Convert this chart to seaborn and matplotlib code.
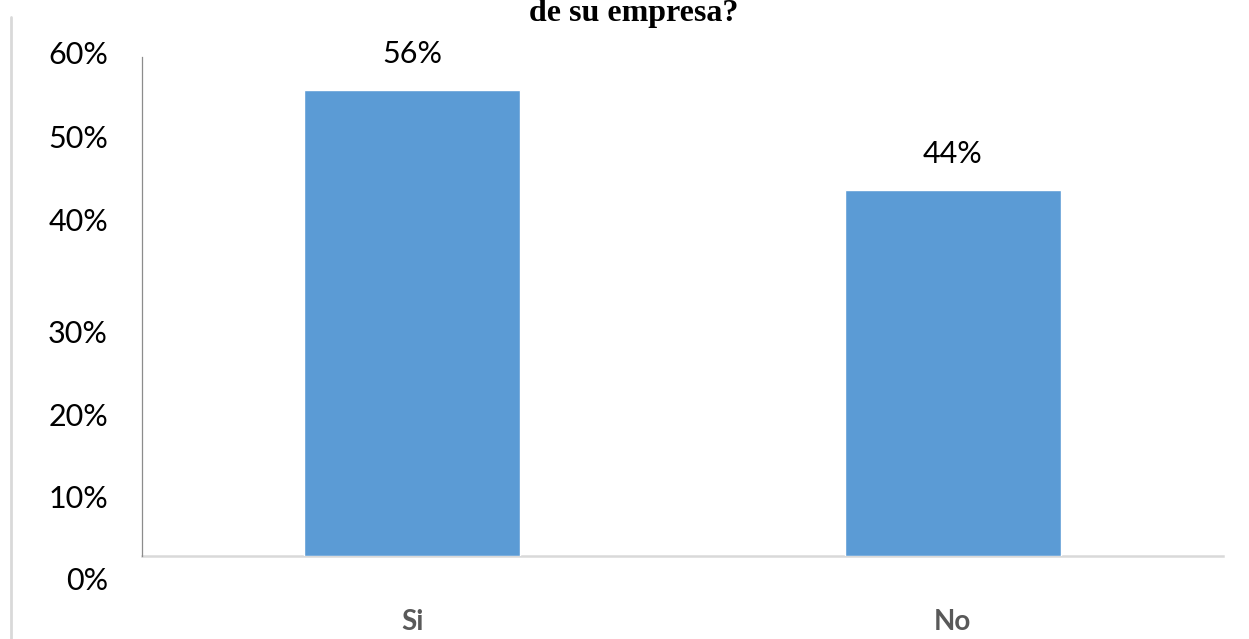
import matplotlib
matplotlib.use("Agg")
import matplotlib.pyplot as plt
from matplotlib.lines import Line2D
import seaborn as sns
import pandas as pd

# Survey answers and their shares (%)
categories = ["Si", "No"]
shares = [56, 44]
tick_labels = ["0%", "10%", "20%", "30%", "40%", "50%", "60%"]
title_text = "de su empresa?"

# Vertical placement (data units) of the percentage labels on the value axis
tick_label_y = [-2.95, 6.8, 16.7, 26.7, 40.2, 50.2, 60.2]

sns.set_theme(style="white")
plt.rcParams["font.family"] = ["Lato", "DejaVu Sans"]

df = pd.DataFrame({"respuesta": categories, "porcentaje": shares})

W, H = 1249, 639
fig = plt.figure(figsize=(W / 100, H / 100), dpi=100)
ax = fig.add_axes([142 / W, (H - 556) / H, (1223 - 142) / W, (556 - 57) / H])

sns.barplot(data=df, x="respuesta", y="porcentaje", color="#5B9BD5",
            saturation=1, width=0.4, ax=ax)
ax.set_ylim(0, 60)
ax.set_xlim(-0.5, 1.5)
ax.set_xlabel("")
ax.set_ylabel("")

# Value labels above the bars
for cont in ax.containers:
    ax.bar_label(cont, labels=[f"{v}%" for v in shares], padding=16,
                 fontsize=22, color="#000000")

# Category labels
ax.tick_params(axis="x", length=0, pad=38, labelsize=20, labelcolor="#595959")
for lab in ax.get_xticklabels():
    lab.set_fontweight("bold")

# Value axis labels
ax.set_yticks([])
for y, lab in zip(tick_label_y, tick_labels):
    ax.annotate(lab, xy=(0, y), xycoords=("axes fraction", "data"),
                xytext=(-24.5, 0), textcoords="offset points",
                ha="right", va="center", fontsize=22, color="#000000",
                annotation_clip=False)

# Spines
for side in ("top", "right"):
    ax.spines[side].set_visible(False)
ax.spines["left"].set_color("#8c8c8c")
ax.spines["left"].set_linewidth(0.9)
ax.spines["bottom"].set_color("#d9d9d9")
ax.spines["bottom"].set_linewidth(1.8)
ax.spines["bottom"].set_zorder(0.5)

# Title
fig.text(634 / W, 1 - 14 / H, title_text, ha="center", va="center",
         fontsize=23, fontweight="bold", family="Liberation Serif",
         color="#000000")

# Frame line on the left edge
fig.add_artist(Line2D([11 / W, 11 / W], [0, 1 - 17 / H], transform=fig.transFigure,
                      color="#d9d9d9", linewidth=2))

fig.savefig("out.png", dpi=100)
